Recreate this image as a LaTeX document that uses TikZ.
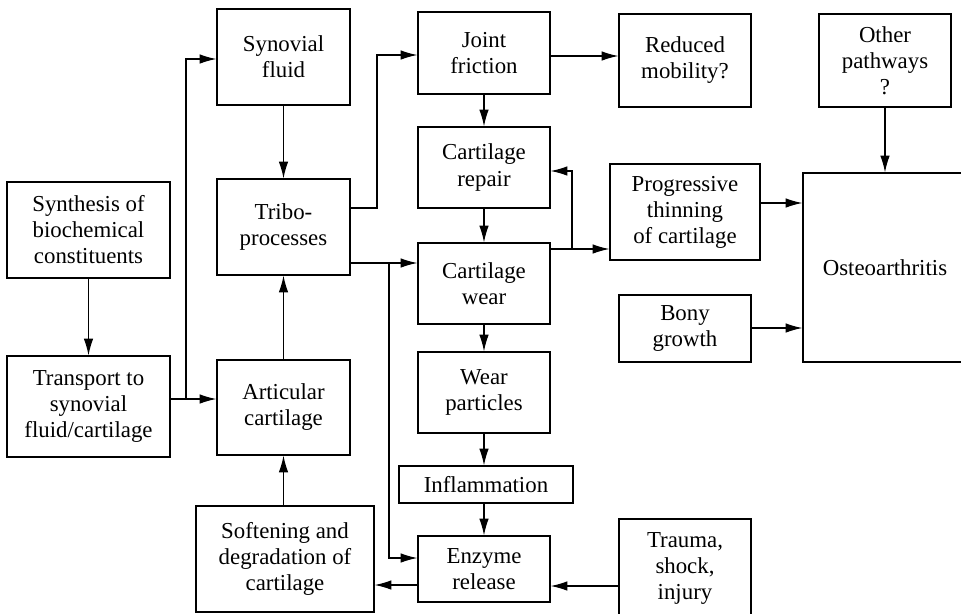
\documentclass[tikz,border=0pt]{standalone}
\usepackage{fontspec}
\setmainfont{Liberation Serif}
\usepackage{tikz}
\usetikzlibrary{arrows.meta}
\tikzset{box/.style={draw,line width=0.7pt,align=center,inner sep=0pt,font=\fontsize{13}{14.8}\selectfont}}
\tikzset{link/.style={->,line width=0.7pt}}

\begin{document}
\begin{tikzpicture}[line cap=butt,line join=miter,>={Latex[length=9.5pt,width=5.4pt]},x=0.02cm,y=-0.02cm]
            \useasboundingbox (0,0) rectangle (961,613);
            \clip (0,0) rectangle (961,613);
            % left column
            \node[box,minimum width=3.26cm,minimum height=1.92cm] (synth) at (88.5,230) {Synthesis of\\biochemical\\constituents};
            \node[box,minimum width=3.26cm,minimum height=2.02cm] (trans) at (88.5,406.5) {Transport to\\synovial\\fluid/cartilage};
            % second column
            \node[box,minimum width=2.66cm,minimum height=1.92cm] (synfl) at (283.5,57) {Synovial\\fluid};
            \node[box,minimum width=2.66cm,minimum height=1.92cm] (tribo) at (283.5,227) {Tribo-\\processes};
            \node[box,minimum width=2.66cm,minimum height=1.90cm] (artic) at (283.5,407.5) {Articular\\cartilage};
            \node[box,minimum width=3.56cm,minimum height=2.12cm] (soft) at (285,559) {Softening and\\degradation of\\cartilage};
            % middle column
            \node[box,minimum width=2.64cm,minimum height=1.64cm] (jfric) at (484,53) {Joint\\friction};
            \node[box,minimum width=2.64cm,minimum height=1.62cm] (repair) at (484,167.5) {Cartilage\\repair};
            \node[box,minimum width=2.64cm,minimum height=1.62cm] (wear) at (484,283.5) {Cartilage\\wear};
            \node[box,minimum width=2.64cm,minimum height=1.62cm] (partic) at (484,392.5) {Wear\\particles};
            \node[box,minimum width=3.48cm,minimum height=0.74cm] (inflam) at (486,484.5) {Inflammation};
            \node[box,minimum width=2.64cm,minimum height=1.32cm] (enzyme) at (484,569) {Enzyme\\release};
            % right side
            \node[box,minimum width=2.64cm,minimum height=1.86cm] (redmob) at (685,60.5) {Reduced\\mobility?};
            \node[box,minimum width=2.64cm,minimum height=1.86cm] (other) at (885,60.5) {Other\\pathways\\?};
            \node[box,minimum width=3.00cm,minimum height=1.92cm] (prog) at (685,212) {Progressive\\thinning\\of cartilage};
            \node[box,minimum width=2.64cm,minimum height=1.34cm] (bony) at (685,328.5) {Bony\\growth};
            \node[box,minimum width=3.28cm,minimum height=3.78cm] (osteo) at (885,267.5) {Osteoarthritis};
            \node[box,minimum width=2.64cm,minimum height=1.96cm] (trauma) at (685,568) {Trauma,\\shock,\\injury};
            % junction points
            \coordinate (jtrans) at (186,399);
            \coordinate (jfr) at (377,208);
            \coordinate (jtri) at (389,263);
            \coordinate (jwear) at (572,249);
            % connectors
            \draw[link] (synth) -- (trans);
            \draw[link] (trans.east |- jtrans) -- (artic.west |- jtrans);
            \draw[link] (jtrans) |- (synfl.west |- 0,59);
            \draw[link] (synfl) -- (tribo);
            \draw[link] (artic) -- (tribo);
            \draw[link] (artic.south |- soft.north) -- (artic.south);
            \draw[link] (tribo.east |- jfr) -- (jfr) |- (jfric.west |- 0,55);
            \draw[link] (tribo.east |- jtri) -- (wear.west |- jtri);
            \draw[link] (jtri) |- (enzyme.west |- 0,558);
            \draw[link] (jfric.east |- 0,56) -- (redmob.west |- 0,56);
            \draw[link] (jfric) -- (repair);
            \draw[link] (repair) -- (wear);
            \draw[link] (wear.east |- jwear) -- (prog.west |- jwear);
            \draw[link] (jwear) |- (repair.east |- 0,171);
            \draw[link] (prog.east |- 0,203) -- (osteo.west |- 0,203);
            \draw[link] (bony.east |- 0,328) -- (osteo.west |- 0,328);
            \draw[link] (other) -- (osteo);
            \draw[link] (wear) -- (partic);
            \draw[link] (partic.south) -- (partic.south |- inflam.north);
            \draw[link] (enzyme.north |- inflam.south) -- (enzyme.north);
            \draw[link] (trauma.west |- 0,586) -- (enzyme.east |- 0,586);
            \draw[link] (enzyme.west |- 0,585) -- (soft.east |- 0,585);
\end{tikzpicture}
\end{document}
